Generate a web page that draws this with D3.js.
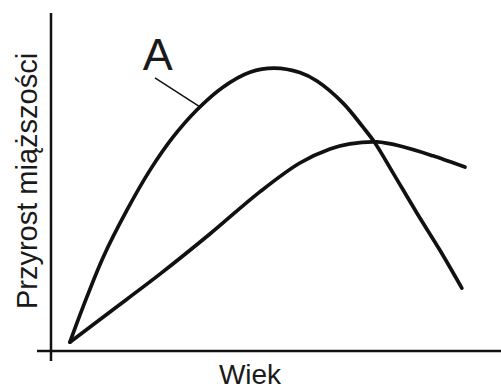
<!DOCTYPE html>
<html>
<head>
<meta charset="utf-8">
<style>
  body { margin: 0; background: #fff; }
  text { font-family: "Liberation Sans", Arial, sans-serif; fill: #1a1a1a; }
</style>
</head>
<body>
<div id="chart"></div>

<script src="https://d3js.org/d3.v7.min.js"></script>
<script>

	var w = 501, h = 390;

	// curve A (age, increment)
	var ageA = [4.2, 7.1, 11.6, 16.9, 22.0, 27.1, 32.4, 38.2, 44.2, 49.6, 55.3, 59.1, 64.9, 69.3, 72.0, 76.0, 81.3, 86.4, 91.3];
	var incA = [2.6, 12.9, 27.6, 41.5, 53.2, 62.9, 70.9, 77.6, 82.0, 83.2, 81.9, 79.4, 72.9, 65.9, 61.2, 52.4, 40.6, 29.7, 18.5];

	// second curve
	var ageB = [4.2, 13.1, 24.2, 35.3, 46.4, 55.3, 62.0, 66.4, 72.4, 77.6, 84.9, 92.0];
	var incB = [2.6, 11.5, 22.6, 34.4, 46.8, 55.3, 59.4, 60.9, 61.5, 60.3, 57.4, 54.1];

	// label A and its leader line
	var labelA = { text: "A", age: 20.4, inc: 82.6 };
	var leaderA = [[23.1, 80.3], [33.1, 71.8]];

	var xTitle = "Wiek",
		yTitle = "Przyrost miąższości";

	var svg = d3.select("#chart")
				.append("svg")
				.attr("width", w)
				.attr("height", h);

	// scales
	var x = d3.scaleLinear().domain([0, 100]).range([51, 501]),
		y = d3.scaleLinear().domain([0, 100]).range([351, 11]);

	// axes (plain lines, no ticks)
	svg.append("line")
	   .attr("x1", x(0)).attr("x2", x(0))
	   .attr("y1", y(100) + 2).attr("y2", y(0) + 10)
	   .attr("stroke", "#111").attr("stroke-width", 2.5);

	svg.append("line")
	   .attr("x1", x(0) - 14).attr("x2", x(100))
	   .attr("y1", y(0)).attr("y2", y(0))
	   .attr("stroke", "#111").attr("stroke-width", 2.5);

	// axis titles
	svg.append("text")
	   .attr("x", (x(0) + x(100)) / 2 - 26)
	   .attr("y", 384)
	   .attr("text-anchor", "middle")
	   .style("font-size", "28px")
	   .text(xTitle);

	svg.append("text")
	   .attr("transform", "translate(37," + 181 + ") rotate(-90)")
	   .attr("text-anchor", "middle")
	   .style("font-size", "29px")
	   .text(yTitle);

	// curves
	var line = d3.line()
				 .x(function(d) { return x(d[0]); })
				 .y(function(d) { return y(d[1]); })
				 .curve(d3.curveCatmullRom.alpha(0.5));

	var dataA = ageA.map(function(a, i) { return [a, incA[i]]; }),
		dataB = ageB.map(function(a, i) { return [a, incB[i]]; });

	svg.selectAll("path.curve")
	   .data([dataA, dataB])
	   .enter()
	   .append("path")
	   .attr("class", "curve")
	   .attr("d", line)
	   .attr("fill", "none")
	   .attr("stroke", "#111")
	   .attr("stroke-width", 3.7)
	   .attr("stroke-linecap", "round")
	   .attr("stroke-linejoin", "round");

	// label A
	svg.append("line")
	   .attr("x1", x(leaderA[0][0])).attr("y1", y(leaderA[0][1]))
	   .attr("x2", x(leaderA[1][0])).attr("y2", y(leaderA[1][1]))
	   .attr("stroke", "#111").attr("stroke-width", 1.5);

	svg.append("text")
	   .attr("x", x(labelA.age))
	   .attr("y", y(labelA.inc))
	   .style("font-size", "45px")
	   .text(labelA.text);

</script>
</body>
</html>
